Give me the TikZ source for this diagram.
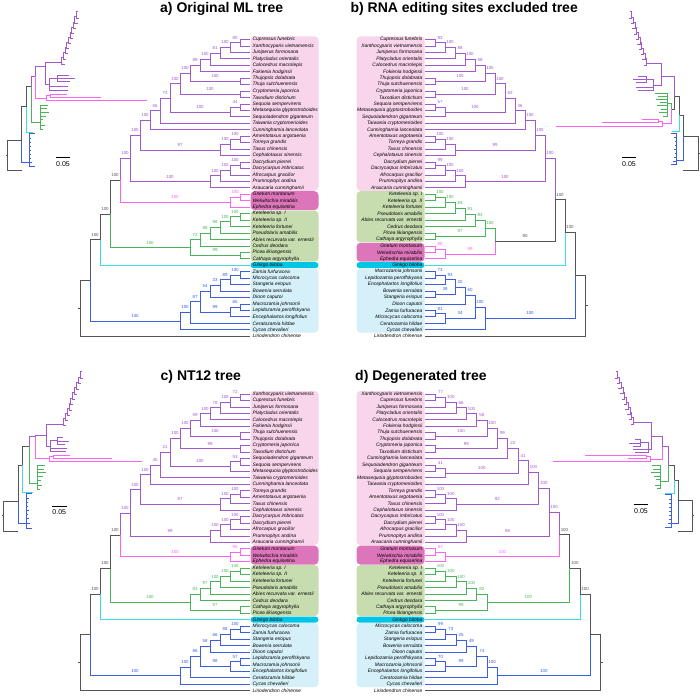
\documentclass[tikz,border=0pt]{standalone}
\usepackage{fontspec}
\newfontfamily\lsans{Liberation Sans}
\usetikzlibrary{calc}
\definecolor{cpur}{RGB}{160,90,205}
\definecolor{cpink}{RGB}{255,100,240}
\definecolor{cgrn}{RGB}{75,180,90}
\definecolor{ccya}{RGB}{60,222,225}
\definecolor{cblu}{RGB}{60,95,225}
\definecolor{cblk}{RGB}{85,85,85}
\definecolor{bpink}{RGB}{248,213,234}
\definecolor{bgne}{RGB}{221,117,186}
\definecolor{bgrn}{RGB}{199,221,176}
\definecolor{bgk}{RGB}{0,197,229}
\definecolor{bcyc}{RGB}{213,240,249}
\tikzset{
  tl/.style={line width=0.8pt},
  il/.style={line width=0.6pt},
  tipname/.style={font=\lsans\itshape\fontsize{4.9}{5}\selectfont,inner sep=0pt,text=black},
  supp/.style={font=\lsans\fontsize{4.4}{5}\selectfont,inner sep=0pt},
  ttl/.style={font=\lsans\bfseries\fontsize{14}{16}\selectfont,inner sep=0pt,text=black},
  sbar/.style={font=\lsans\fontsize{7}{8}\selectfont,inner sep=0pt,text=black}
}
\newcommand\defsp[3]{\expandafter\def\csname N#1\endcsname{#2}\expandafter\def\csname C#1\endcsname{#3}}
\defsp{cup}{Cupressus funebris}{cpur}
\defsp{xan}{Xanthocyparis vietnamensis}{cpur}
\defsp{jun}{Juniperus formosana}{cpur}
\defsp{pla}{Platycladus orientalis}{cpur}
\defsp{cal}{Calocedrus macrolepis}{cpur}
\defsp{fok}{Fokienia hodginsii}{cpur}
\defsp{tjo}{Thujopsis dolabrata}{cpur}
\defsp{thu}{Thuja sutchuenensis}{cpur}
\defsp{cry}{Cryptomeria japonica}{cpur}
\defsp{tax}{Taxodium distichum}{cpur}
\defsp{seq}{Sequoia sempervirens}{cpur}
\defsp{met}{Metasequoia glyptostroboides}{cpur}
\defsp{sqd}{Sequoiadendron giganteum}{cpur}
\defsp{tai}{Taiwania cryptomerioides}{cpur}
\defsp{cun}{Cunninghamia lanceolata}{cpur}
\defsp{ame}{Amentotaxus argotaenia}{cpur}
\defsp{tor}{Torreya grandis}{cpur}
\defsp{txs}{Taxus chinensis}{cpur}
\defsp{cep}{Cephalotaxus sinensis}{cpur}
\defsp{dcy}{Dacrydium pierrei}{cpur}
\defsp{dcp}{Dacrycarpus imbricatus}{cpur}
\defsp{afr}{Afrocarpus gracilior}{cpur}
\defsp{pru}{Prumnopitys andina}{cpur}
\defsp{ara}{Araucaria cunninghamii}{cpur}
\defsp{gne}{Gnetum montanum}{cpink}
\defsp{wel}{Welwitschia mirabilis}{cpink}
\defsp{eph}{Ephedra equisetina}{cpink}
\defsp{ke1}{Keteleeria sp. I}{cgrn}
\defsp{ke2}{Keteleeria sp. II}{cgrn}
\defsp{kef}{Keteleeria fortunei}{cgrn}
\defsp{pse}{Pseudolarix amabilis}{cgrn}
\defsp{abi}{Abies recurvata var. ernestii}{cgrn}
\defsp{ced}{Cedrus deodara}{cgrn}
\defsp{pic}{Picea likiangensis}{cgrn}
\defsp{cth}{Cathaya argyrophylla}{cgrn}
\defsp{gin}{Ginkgo biloba}{ccya}
\defsp{zam}{Zamia furfuracea}{cblu}
\defsp{mic}{Microcycas calocoma}{cblu}
\defsp{sta}{Stangeria eriopus}{cblu}
\defsp{bow}{Bowenia serrulata}{cblu}
\defsp{dio}{Dioon caputoi}{cblu}
\defsp{mac}{Macrozamia johnsonii}{cblu}
\defsp{lep}{Lepidozamia peroffskyana}{cblu}
\defsp{enc}{Encephalartos longifolius}{cblu}
\defsp{cer}{Ceratozamia hildae}{cblu}
\defsp{cyc}{Cycas chevalieri}{cblu}
\defsp{lir}{Liriodendron chinense}{cblk}

\newcommand\mtip[4]{%
  \pgfmathsetmacro\tmpy{\TY+\TR*(#2)}%
  \pgfmathsetmacro\tmpt{\TX-(\TD)*2.5}%
  \expandafter\xdef\csname ny@\TP#1\endcsname{\tmpy}%
  \expandafter\xdef\csname nx@\TP#1\endcsname{\TX}%
  \expandafter\xdef\csname nc@\TP#1\endcsname{#4}%
  \expandafter\gdef\csname nl@\TP#1\endcsname{}%
  \coordinate (\TP#1) at (\TX,\tmpy);
  \ifnum\TD<0
    \node[tipname,anchor=west] (\TP#1t) at (\tmpt,\tmpy) {#3};
  \else
    \node[tipname,anchor=east] (\TP#1t) at (\tmpt,\tmpy) {#3};
  \fi}
\newcommand\mkid[2]{%
  \edef\kc{\csname nc@\TP#2\endcsname}%
  \draw[tl,draw=\kc] (\TP#1) |- (\TP#2);
  \edef\kl{\csname nl@\TP#2\endcsname}%
  \ifx\kl\empty\else
    \edef\kx{\csname nx@\TP#2\endcsname}%
    \edef\ky{\csname ny@\TP#2\endcsname}%
    \edef\px{\csname nx@\TP#1\endcsname}%
    \pgfmathsetmacro\lx{(\kx+\px)/2}%
    \pgfmathsetmacro\ly{\ky-3.6}%
    \node[supp,text=\kc,anchor=base] (\TP#2l) at (\lx,\ly) {\kl};
  \fi}
\newcommand\mnode[6]{%
  \pgfmathsetmacro\tmpx{\TX+(\TD)*\TS*(#2)}%
  \edef\ya{\csname ny@\TP#3\endcsname}%
  \edef\yb{\csname ny@\TP#4\endcsname}%
  \pgfmathsetmacro\tmpy{(\ya+\yb)/2}%
  \expandafter\xdef\csname ny@\TP#1\endcsname{\tmpy}%
  \expandafter\xdef\csname nx@\TP#1\endcsname{\tmpx}%
  \expandafter\xdef\csname nc@\TP#1\endcsname{#6}%
  \expandafter\gdef\csname nl@\TP#1\endcsname{#5}%
  \coordinate (\TP#1) at (\tmpx,\tmpy);
  \mkid{#1}{#3}\mkid{#1}{#4}}
\newcommand\mybx[4]{%
  \pgfmathsetmacro\bya{\TY+\TR*(#2)-3.1}%
  \pgfmathsetmacro\byb{\TY+\TR*(#3)+2.9}%
  \fill[#1,rounded corners=#4] (\BXa,\bya) rectangle (\BXb,\byb);}
\newcommand\mstub{%
  \edef\rx{\csname nx@\TP rt\endcsname}\edef\ry{\csname ny@\TP rt\endcsname}%
  \pgfmathsetmacro\sx{\rx+(\TD)*2.5}%
  \coordinate (\TP rs) at (\sx,\ry);
  \draw[tl,cblk] (\TP rt) -- (\TP rs);}
\newcommand\mytips[1]{%
  \foreach \id [count=\i from 0] in {#1}{\mtip{\id}{\i}{\csname N\id\endcsname}{\csname C\id\endcsname}}}
% inset: prefix, x0, y0, xdir, coords, pinaceae tips, cycad tips, gnepine flag
\newcommand\myinset[8]{%
  \coordinate (#1R) at (#2,#3);
  \foreach \n/\x/\y in {#5}{%
    \pgfmathsetmacro\ax{#2+(#4)*(\x)}\pgfmathsetmacro\ay{#3+(\y)}%
    \coordinate (#1\n) at (\ax,\ay);}
  \pgfmathsetmacro\ax{#2-(#4)*1.5}%
  \coordinate (#1S) at (\ax,#3);
  \draw[il,cblk] (#1R) -- (#1S);
  \draw[il,cblk] (#1R) |- (#1L);
  \draw[il,cblk] (#1R) |- (#1G);
  \draw[il,cblu] (#1G) |- (#1Cy);
  \draw[il,cblk] (#1G) |- (#1H);
  \draw[il,ccya] (#1H) |- (#1Gk);
  \draw[il,cblk] (#1H) |- (#1I);
  \ifnum#8=1
    \draw[il,cpur] (#1I) |- (#1K);
    \draw[il,cblk] (#1I) |- (#1J);
    \draw[il,cgrn] (#1J) |- (#1P);
  \else
    \draw[il,cpur] (#1I) |- (#1J);
    \draw[il,cgrn] (#1I) |- (#1P);
    \draw[il,cpur] (#1J) |- (#1K);
  \fi
  \draw[il,cpink] (#1J) |- (#1Gn);
  \draw[il,cpink] (#1Gn) |- (#1Gw);
  \draw[il,cpink] (#1Gn) |- (#1E);
  \draw[il,cpink] (#1Gw) |- (#1Wa);
  \draw[il,cpink] (#1Gw) |- (#1Wb);
  \draw[il,cpur] (#1K) |- (#1M);
  \draw[il,cpur] (#1K) |- (#1N);
  \draw[il,cpur] (#1N) |- (#1N1);
  \draw[il,cpur] (#1N) |- (#1N2);
  \draw[il,cpur] (#1N) |- (#1N3);
  \draw[il,cpur] (#1N3) |- (#1Na);
  \draw[il,cpur] (#1N3) |- (#1Nb);
  \draw[il,cpur] (#1N3) |- (#1Nc);
  \foreach \x/\y [count=\q] in {#6}{%
    \pgfmathsetmacro\ax{#2+(#4)*(\x)}\pgfmathsetmacro\ay{#3+(\y)}%
    \coordinate (#1pt\q) at (\ax,\ay);
    \draw[il,cgrn] (#1P) |- (#1pt\q);}
  \foreach \x/\y [count=\q] in {#7}{%
    \pgfmathsetmacro\ax{#2+(#4)*(\x)}\pgfmathsetmacro\ay{#3+(\y)}%
    \coordinate (#1ct\q) at (\ax,\ay);
    \draw[il,cblu] (#1Cy) |- (#1ct\q);}
  \foreach \k in {1,...,10}{%
    \pgfmathsetmacro\fa{(\k-1)/10}\pgfmathsetmacro\fb{\k/10}%
    \coordinate (#1sa\k) at ($(#1M)!\fa!(#1T)$);
    \coordinate (#1sb\k) at ($(#1M)!\fb!(#1T)$);
    \coordinate (#1st\k) at ($(#1sa\k)+(#4*2.8,1.6)$);
    \draw[il,cpur] (#1sa\k) |- (#1sb\k);
    \draw[il,cpur] (#1sa\k) |- (#1st\k);}
}

\begin{document}
\begin{tikzpicture}[x=1pt,y=-1pt]
\fill[white] (0,0) rectangle (700,695);
\useasboundingbox (0,0) rectangle (700,695);
\def\TR{6.45}

% ================= panel a =================
\def\TP{a}\def\TX{250}\def\TD{-1}\def\TS{10}\def\TY{39.5}\def\BXa{250.5}\def\BXb{318.5}
\mybx{bpink}{0}{23}{4pt}\mybx{bgne}{24}{26}{4pt}\mybx{bgrn}{27}{34}{4pt}\mybx{bgk}{35}{35}{3pt}\mybx{bcyc}{36}{45}{4pt}
\mytips{cup,xan,jun,pla,cal,fok,tjo,thu,cry,tax,seq,met,sqd,tai,cun,ame,tor,txs,cep,dcy,dcp,afr,pru,ara,gne,wel,eph,ke1,ke2,kef,pse,abi,ced,pic,cth,gin,zam,mic,sta,bow,dio,mac,lep,enc,cer,cyc,lir}
\mnode{n1}{1}{cup}{xan}{80}{cpur}
\mnode{n2}{2}{n1}{jun}{100}{cpur}
\mnode{n3}{3}{n2}{pla}{81}{cpur}
\mnode{n4}{4}{n3}{cal}{100}{cpur}
\mnode{n5}{5}{n4}{fok}{89}{cpur}
\mnode{thc}{1}{tjo}{thu}{100}{cpur}
\mnode{n6}{6}{n5}{thc}{100}{cpur}
\mnode{ctc}{1}{cry}{tax}{100}{cpur}
\mnode{n7}{7}{n6}{ctc}{100}{cpur}
\mnode{sq1}{1}{seq}{met}{44}{cpur}
\mnode{sq2}{2}{sq1}{sqd}{100}{cpur}
\mnode{n8}{8}{n7}{sq2}{72}{cpur}
\mnode{n9}{9}{n8}{tai}{56}{cpur}
\mnode{n10}{10}{n9}{cun}{100}{cpur}
\mnode{tx1}{1}{ame}{tor}{100}{cpur}
\mnode{tx2}{2}{tx1}{txs}{100}{cpur}
\mnode{tx3}{3}{tx2}{cep}{97}{cpur}
\mnode{n11}{11}{n10}{tx3}{100}{cpur}
\mnode{ar1}{1}{dcy}{dcp}{100}{cpur}
\mnode{ar2}{2}{ar1}{afr}{100}{cpur}
\mnode{ar3}{3}{ar2}{pru}{100}{cpur}
\mnode{ar4}{4}{ar3}{ara}{100}{cpur}
\mnode{n12}{12}{n11}{ar4}{100}{cpur}
\mnode{gn1}{1}{gne}{wel}{100}{cpink}
\mnode{gn2}{2}{gn1}{eph}{100}{cpink}
\mnode{n13}{13}{n12}{gn2}{100}{cblk}
\mnode{pi1}{1}{ke1}{ke2}{100}{cgrn}
\mnode{pi2}{2}{pi1}{kef}{100}{cgrn}
\mnode{pi3}{3}{pi2}{pse}{98}{cgrn}
\mnode{pi4}{4}{pi3}{abi}{98}{cgrn}
\mnode{pi5}{5}{pi4}{ced}{72}{cgrn}
\mnode{pc}{1}{pic}{cth}{99}{cgrn}
\mnode{pi6}{6}{pi5}{pc}{100}{cgrn}
\mnode{n14}{14}{n13}{pi6}{100}{cblk}
\mnode{n15}{15}{n14}{gin}{100}{cblk}
\mnode{cy1}{1}{zam}{mic}{100}{cblu}
\mnode{cy2}{2}{cy1}{sta}{89}{cblu}
\mnode{cy3}{3}{cy2}{bow}{33}{cblu}
\mnode{cy4}{4}{cy3}{dio}{54}{cblu}
\mnode{ml1}{1}{mac}{lep}{65}{cblu}
\mnode{ml2}{2}{ml1}{enc}{99}{cblu}
\mnode{cy5}{5}{cy4}{ml2}{87}{cblu}
\mnode{cy6}{6}{cy5}{cer}{100}{cblu}
\mnode{cy7}{7}{cy6}{cyc}{100}{cblu}
\mnode{n16}{16}{n15}{cy7}{}{cblk}
\mnode{rt}{17}{n16}{lir}{}{cblk}
\mstub

% ================= panel b =================
\def\TP{b}\def\TX{425}\def\TD{1}\def\TS{10}\def\TY{39.5}\def\BXa{356.5}\def\BXb{424.5}
\mybx{bpink}{0}{23}{4pt}\mybx{bgrn}{24}{31}{4pt}\mybx{bgne}{32}{34}{4pt}\mybx{bgk}{35}{35}{3pt}\mybx{bcyc}{36}{45}{4pt}
\mytips{cup,xan,jun,pla,cal,fok,tjo,thu,cry,tax,seq,met,sqd,tai,cun,ame,tor,txs,cep,dcy,dcp,afr,pru,ara,ke1,ke2,kef,pse,abi,ced,pic,cth,gne,wel,eph,gin,mac,lep,enc,bow,sta,dio,zam,mic,cer,cyc,lir}
\mnode{n1}{1}{cup}{xan}{93}{cpur}
\mnode{n2}{2}{n1}{jun}{100}{cpur}
\mnode{n3}{3}{n2}{pla}{88}{cpur}
\mnode{n4}{4}{n3}{cal}{100}{cpur}
\mnode{n5}{5}{n4}{fok}{58}{cpur}
\mnode{thc}{1}{tjo}{thu}{100}{cpur}
\mnode{n6}{6}{n5}{thc}{100}{cpur}
\mnode{ctc}{1}{cry}{tax}{100}{cpur}
\mnode{n7}{7}{n6}{ctc}{100}{cpur}
\mnode{sq1}{1}{seq}{met}{57}{cpur}
\mnode{sq2}{2}{sq1}{sqd}{100}{cpur}
\mnode{n8}{8}{n7}{sq2}{63}{cpur}
\mnode{n9}{9}{n8}{tai}{36}{cpur}
\mnode{n10}{10}{n9}{cun}{100}{cpur}
\mnode{tx1}{1}{ame}{tor}{100}{cpur}
\mnode{tx2}{2}{tx1}{txs}{100}{cpur}
\mnode{tx3}{3}{tx2}{cep}{99}{cpur}
\mnode{n11}{11}{n10}{tx3}{100}{cpur}
\mnode{ar1}{1}{dcy}{dcp}{99}{cpur}
\mnode{ar2}{2}{ar1}{afr}{100}{cpur}
\mnode{ar3}{3}{ar2}{pru}{100}{cpur}
\mnode{ar4}{4}{ar3}{ara}{100}{cpur}
\mnode{n12}{12}{n11}{ar4}{100}{cpur}
\mnode{pi1}{1}{ke1}{ke2}{100}{cgrn}
\mnode{pi2}{2}{pi1}{kef}{100}{cgrn}
\mnode{pi3}{3}{pi2}{pse}{83}{cgrn}
\mnode{pi4}{4}{pi3}{abi}{91}{cgrn}
\mnode{pi5}{5}{pi4}{ced}{83}{cgrn}
\mnode{pc}{1}{pic}{cth}{97}{cgrn}
\mnode{pi6}{6}{pi5}{pc}{100}{cgrn}
\mnode{gn1}{1}{gne}{wel}{88}{cpink}
\mnode{gn2}{2}{gn1}{eph}{99}{cpink}
\mnode{gp}{7}{pi6}{gn2}{90}{cblk}
\mnode{n13}{13}{n12}{gp}{100}{cblk}
\mnode{n14}{14}{n13}{gin}{100}{cblk}
\mnode{cm1}{1}{mac}{lep}{73}{cblu}
\mnode{cm2}{2}{cm1}{enc}{93}{cblu}
\mnode{bs}{1}{bow}{sta}{38}{cblu}
\mnode{cy3}{3}{cm2}{bs}{20}{cblu}
\mnode{cy4}{4}{cy3}{dio}{60}{cblu}
\mnode{zm1}{1}{zam}{mic}{91}{cblu}
\mnode{zm2}{2}{zm1}{cer}{34}{cblu}
\mnode{cy5}{5}{cy4}{zm2}{100}{cblu}
\mnode{cy6}{6}{cy5}{cyc}{100}{cblu}
\mnode{n15}{15}{n14}{cy6}{}{cblk}
\mnode{rt}{16}{n15}{lir}{}{cblk}
\mstub

% ================= panel c =================
\def\TP{c}\def\TX{250}\def\TD{-1}\def\TS{10}\def\TY{394}\def\BXa{250.5}\def\BXb{318.5}
\mybx{bpink}{0}{23}{4pt}\mybx{bgne}{24}{26}{4pt}\mybx{bgrn}{27}{34}{4pt}\mybx{bgk}{35}{35}{3pt}\mybx{bcyc}{36}{45}{4pt}
\mytips{xan,cup,jun,pla,cal,fok,thu,tjo,cry,tax,sqd,seq,met,tai,cun,tor,ame,txs,cep,dcp,dcy,afr,pru,ara,gne,wel,eph,ke1,ke2,kef,pse,abi,ced,cth,pic,gin,mic,zam,sta,bow,dio,lep,mac,enc,cer,cyc,lir}
\mnode{n1}{1}{xan}{cup}{72}{cpur}
\mnode{n2}{2}{n1}{jun}{100}{cpur}
\mnode{n3}{3}{n2}{pla}{78}{cpur}
\mnode{n4}{4}{n3}{cal}{100}{cpur}
\mnode{n5}{5}{n4}{fok}{59}{cpur}
\mnode{thc}{1}{thu}{tjo}{100}{cpur}
\mnode{n6}{6}{n5}{thc}{100}{cpur}
\mnode{ctc}{1}{cry}{tax}{99}{cpur}
\mnode{n7}{7}{n6}{ctc}{100}{cpur}
\mnode{sq1}{1}{sqd}{seq}{53}{cpur}
\mnode{sq2}{2}{sq1}{met}{100}{cpur}
\mnode{n8}{8}{n7}{sq2}{21}{cpur}
\mnode{n9}{9}{n8}{tai}{40}{cpur}
\mnode{n10}{10}{n9}{cun}{100}{cpur}
\mnode{tx1}{1}{tor}{ame}{100}{cpur}
\mnode{tx2}{2}{tx1}{txs}{100}{cpur}
\mnode{tx3}{3}{tx2}{cep}{87}{cpur}
\mnode{n11}{11}{n10}{tx3}{100}{cpur}
\mnode{ar1}{1}{dcp}{dcy}{100}{cpur}
\mnode{ar2}{2}{ar1}{afr}{100}{cpur}
\mnode{ar3}{3}{ar2}{pru}{100}{cpur}
\mnode{ar4}{4}{ar3}{ara}{99}{cpur}
\mnode{n12}{12}{n11}{ar4}{100}{cpur}
\mnode{gn1}{1}{gne}{wel}{95}{cpink}
\mnode{gn2}{2}{gn1}{eph}{100}{cpink}
\mnode{n13}{13}{n12}{gn2}{100}{cblk}
\mnode{pi1}{1}{ke1}{ke2}{100}{cgrn}
\mnode{pi2}{2}{pi1}{kef}{100}{cgrn}
\mnode{pi3}{3}{pi2}{pse}{100}{cgrn}
\mnode{pi4}{4}{pi3}{abi}{97}{cgrn}
\mnode{pi5}{5}{pi4}{ced}{83}{cgrn}
\mnode{pc}{1}{cth}{pic}{97}{cgrn}
\mnode{pi6}{6}{pi5}{pc}{100}{cgrn}
\mnode{n14}{14}{n13}{pi6}{100}{cblk}
\mnode{n15}{15}{n14}{gin}{100}{cblk}
\mnode{cy1}{1}{mic}{zam}{100}{cblu}
\mnode{cy2}{2}{cy1}{sta}{88}{cblu}
\mnode{cy3}{3}{cy2}{bow}{66}{cblu}
\mnode{cy4}{4}{cy3}{dio}{58}{cblu}
\mnode{ml1}{1}{lep}{mac}{57}{cblu}
\mnode{ml2}{2}{ml1}{enc}{98}{cblu}
\mnode{cy5}{5}{cy4}{ml2}{86}{cblu}
\mnode{cy6}{6}{cy5}{cer}{100}{cblu}
\mnode{cy7}{7}{cy6}{cyc}{100}{cblu}
\mnode{n16}{16}{n15}{cy7}{}{cblk}
\mnode{rt}{17}{n16}{lir}{}{cblk}
\mstub

% ================= panel d =================
\def\TP{d}\def\TX{425}\def\TD{1}\def\TS{10.33}\def\TY{394}\def\BXa{356.5}\def\BXb{424.5}
\mybx{bpink}{0}{23}{4pt}\mybx{bgne}{24}{26}{4pt}\mybx{bgrn}{27}{34}{4pt}\mybx{bgk}{35}{35}{3pt}\mybx{bcyc}{36}{45}{4pt}
\mytips{xan,cup,jun,pla,cal,fok,thu,tjo,cry,tax,cun,sqd,seq,met,tai,tor,ame,txs,cep,dcp,dcy,afr,pru,ara,gne,wel,eph,ke1,ke2,kef,pse,abi,ced,cth,pic,gin,mic,zam,sta,bow,dio,lep,mac,enc,cer,cyc,lir}
\mnode{n1}{1}{xan}{cup}{77}{cpur}
\mnode{n2}{2}{n1}{jun}{100}{cpur}
\mnode{n3}{3}{n2}{pla}{66}{cpur}
\mnode{n4}{4}{n3}{cal}{100}{cpur}
\mnode{n5}{5}{n4}{fok}{58}{cpur}
\mnode{thc}{1}{thu}{tjo}{100}{cpur}
\mnode{n6}{6}{n5}{thc}{100}{cpur}
\mnode{ctc}{1}{cry}{tax}{99}{cpur}
\mnode{n7}{7}{n6}{ctc}{99}{cpur}
\mnode{n8}{8}{n7}{cun}{22}{cpur}
\mnode{sq1}{1}{sqd}{seq}{41}{cpur}
\mnode{sq2}{2}{sq1}{met}{100}{cpur}
\mnode{n9}{9}{n8}{sq2}{41}{cpur}
\mnode{n10}{10}{n9}{tai}{100}{cpur}
\mnode{tx1}{1}{tor}{ame}{100}{cpur}
\mnode{tx2}{2}{tx1}{txs}{100}{cpur}
\mnode{tx3}{3}{tx2}{cep}{92}{cpur}
\mnode{n11}{11}{n10}{tx3}{100}{cpur}
\mnode{ar1}{1}{dcp}{dcy}{100}{cpur}
\mnode{ar2}{2}{ar1}{afr}{100}{cpur}
\mnode{ar3}{3}{ar2}{pru}{100}{cpur}
\mnode{ar4}{4}{ar3}{ara}{96}{cpur}
\mnode{n12}{12}{n11}{ar4}{100}{cpur}
\mnode{gn1}{1}{gne}{wel}{97}{cpink}
\mnode{gn2}{2}{gn1}{eph}{100}{cpink}
\mnode{n13}{13}{n12}{gn2}{100}{cblk}
\mnode{pi1}{1}{ke1}{ke2}{100}{cgrn}
\mnode{pi2}{2}{pi1}{kef}{100}{cgrn}
\mnode{pi3}{3}{pi2}{pse}{100}{cgrn}
\mnode{pi4}{4}{pi3}{abi}{100}{cgrn}
\mnode{pi5}{5}{pi4}{ced}{82}{cgrn}
\mnode{pc}{1}{cth}{pic}{99}{cgrn}
\mnode{pi6}{6}{pi5}{pc}{100}{cgrn}
\mnode{n14}{14}{n13}{pi6}{100}{cblk}
\mnode{n15}{15}{n14}{gin}{100}{cblk}
\mnode{cy1}{1}{mic}{zam}{99}{cblu}
\mnode{cy2}{2}{cy1}{sta}{73}{cblu}
\mnode{cy3}{3}{cy2}{bow}{25}{cblu}
\mnode{cy4}{4}{cy3}{dio}{49}{cblu}
\mnode{ml1}{1}{lep}{mac}{70}{cblu}
\mnode{ml2}{2}{ml1}{enc}{99}{cblu}
\mnode{cy5}{5}{cy4}{ml2}{74}{cblu}
\mnode{cy6}{6}{cy5}{cer}{100}{cblu}
\mnode{cy7}{7}{cy6}{cyc}{100}{cblu}
\mnode{n16}{16}{n15}{cy7}{}{cblk}
\mnode{rt}{17}{n16}{lir}{}{cblk}
\mstub

% ================= titles =================
\node[ttl,anchor=base west] (tta) at (160,12.5) {a) Original ML tree};
\node[ttl,anchor=base east] (ttb) at (578,12.5) {b) RNA editing sites excluded tree};
\node[ttl,anchor=base west] (ttc) at (160.5,380.5) {c) NT12 tree};
\node[ttl,anchor=base west] (ttd) at (355,380.5) {d) Degenerated tree};

% ================= insets =================
\myinset{ia}{7.3}{155}{1}%
 {L/14.4/15, G/14.4/-15, Cy/22/7.7, H/18.7/-48.3, Gk/26/-22.3, I/24.4/-69, P/32.7/-32.3, J/27.7/-79, K/37.7/-89, Gn/38.7/-56.7, M/54.4/-92.7, T/70.7/-143.3, N/42/-71, N1/61/-69, N2/61/-65, N3/50/-77, Na/62/-80, Nb/67.7/-76.5, Nc/63/-73.5, Gw/42.7/-59.3, Wa/59.4/-61, Wb/93.4/-57.7, E/139.4/-54.3}%
 {40.7/-50, 39.7/-46.5, 41.7/-43, 38.7/-39, 36/-35.5, 37.7/-30, 35.7/-26}%
 {27.7/-21.5, 24/-17, 23.5/-13, 23.5/-9, 24/-5, 23.5/-1, 24/3, 25/7.5, 27.7/11.7}{0}
\myinset{ib}{698.3}{153}{-1}%
 {L/15/17, G/15/-16.3, Cy/21.6/7, H/19/-38, Gk/26.6/-21.3, I/24.3/-56.3, J/27/-44, P/31/-50, Gn/36/-30, K/36.6/-76.3, M/51.6/-89.7, T/68.3/-141.3, N/45/-68, N1/62/-66, N2/60/-63, N3/52/-74, Na/60/-77, Nb/65/-73.5, Nc/62/-70.5, Gw/40/-32, Wa/56.6/-33.5, Wb/96/-31, E/142.3/-26.5}%
 {43/-60, 40/-57, 42/-54, 38/-51, 41/-47.5, 37/-44, 39/-40.5, 35.5/-37}%
 {27/-20, 24/-16, 23.5/-12, 23.5/-8, 24/-4, 23.5/0, 24/4, 25/8, 27/11}{1}
\myinset{ic}{3.3}{515.7}{1}%
 {L/15/15.3, G/15/-14, Cy/22.7/7.6, H/19.4/-50.7, Gk/29.4/-23, I/26/-69, P/34/-32.4, J/31.7/-79, K/42.7/-80.7, Gn/46/-57.4, M/60/-91.7, T/78.4/-144, N/46.7/-69, N1/64/-67.5, N2/63/-64, N3/54/-75, Na/60/-78, Nb/66/-74.5, Nc/62/-71.5, Gw/50/-59, Wa/66.7/-60.7, Wb/108.4/-57.4, E/138.4/-54}%
 {42/-50, 41/-46.5, 43/-43, 40/-39, 37.5/-35.5, 39/-30, 37/-26}%
 {29/-22, 25.5/-17, 25/-13, 25/-9, 25.5/-5, 25/-1, 25.5/3, 26.5/7.5, 29/12.5}{0}
\myinset{id}{692.7}{515.7}{-1}%
 {L/14.4/15.3, G/14.4/-15, Cy/21/7.6, H/18.7/-35.7, Gk/27.7/-22.4, I/24.4/-50.7, P/32.7/-34, J/30/-69, K/41/-79.7, Gn/42.7/-56.4, M/59.4/-93, T/76.7/-144, N/44.7/-66.7, N1/60/-66, N2/58/-63, N3/52/-73, Na/58/-76, Nb/64/-72.5, Nc/60/-69.5, Gw/46/-59, Wa/107.7/-60.7, Wb/64.4/-57.4, E/140/-54}%
 {41/-50, 40/-46.5, 42/-43, 39/-39.5, 36.5/-36, 38/-30.5, 36/-27}%
 {27.7/-21, 24/-16.5, 23.5/-12.5, 23.5/-8.5, 24/-4.5, 23.5/-0.5, 24/3.5, 25/8, 27.7/12}{0}

% ================= scale bars =================
\coordinate (sa1) at (56,157.7); \coordinate (sa2) at (70,157.7);
\draw[il,black] (sa1) -- (sa2); \node[sbar] (sat) at (63,163.8) {0.05};
\coordinate (sb1) at (622,157.5); \coordinate (sb2) at (636,157.5);
\draw[il,black] (sb1) -- (sb2); \node[sbar] (sbt) at (629,163.6) {0.05};
\coordinate (sc1) at (52,506); \coordinate (sc2) at (66.5,506);
\draw[il,black] (sc1) -- (sc2); \node[sbar] (sct) at (59.3,512.2) {0.05};
\coordinate (sd1) at (633.5,504.5); \coordinate (sd2) at (648,504.5);
\draw[il,black] (sd1) -- (sd2); \node[sbar] (sdt) at (641,510.7) {0.05};
\end{tikzpicture}
\end{document}
